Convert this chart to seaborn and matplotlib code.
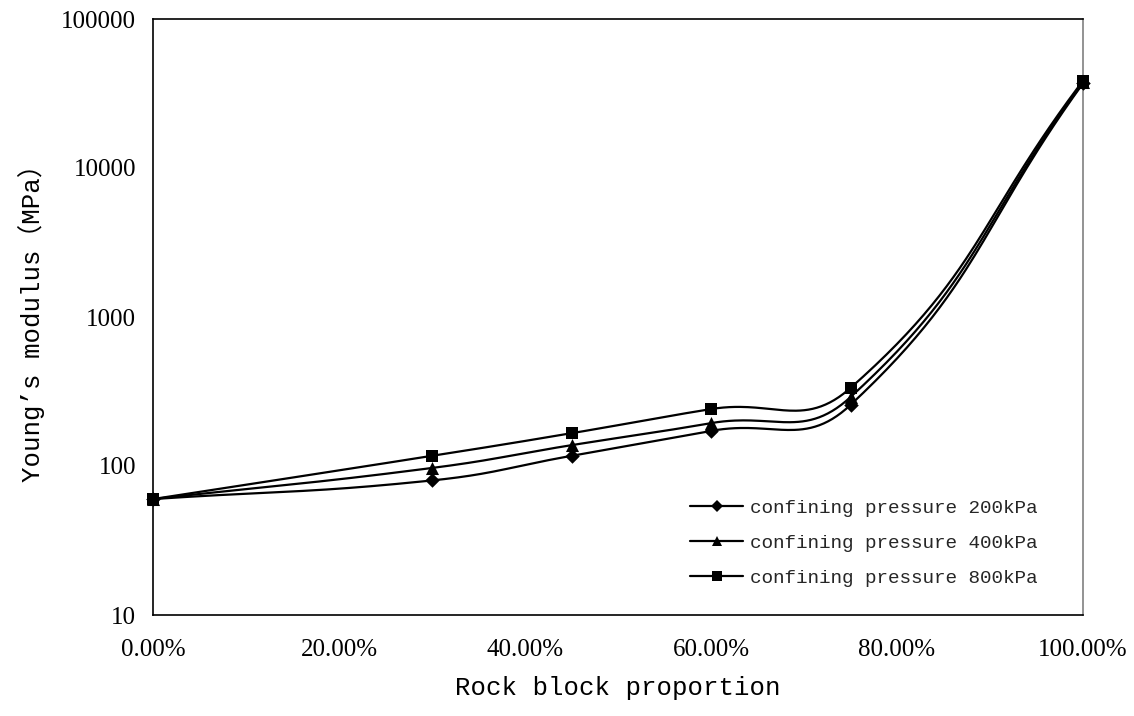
import numpy as np
import pandas as pd
import matplotlib
matplotlib.use("Agg")
import matplotlib.pyplot as plt
from matplotlib.lines import Line2D
from matplotlib.ticker import FixedLocator, FixedFormatter, NullLocator
import seaborn as sns

# Rock block proportion (fraction) and Young's modulus (MPa) per confining pressure
rock_fraction = [0.00, 0.30, 0.45, 0.60, 0.75, 1.00]
modulus_200kpa = [60, 80, 117, 172, 257, 37000]
modulus_400kpa = [60, 97, 138, 194, 290, 37500]
modulus_800kpa = [60, 117, 166, 241, 334, 38500]
series_labels = ["confining pressure 200kPa",
                 "confining pressure 400kPa",
                 "confining pressure 800kPa"]
series_markers = ["D", "^", "s"]
marker_sizes = [7.4, 9.4, 9.0]

x_tick_values = [0.0, 0.2, 0.4, 0.6, 0.8, 1.0]
x_tick_labels = ["0.00%", "20.00%", "40.00%", "60.00%", "80.00%", "100.00%"]
y_tick_values = [10, 100, 1000, 10000, 100000]
y_tick_labels = ["10", "100", "1000", "10000", "100000"]

x_title = "Rock block proportion"
y_title = "Young\u2019s modulus\uff08MPa\uff09"

sns.set_theme(style="white")
plt.rcParams["font.family"] = ["Liberation Serif", "DejaVu Serif"]
LABEL_FONT = ["Liberation Mono", "Noto Sans CJK SC", "DejaVu Sans"]

W, H = 1134, 716
fig = plt.figure(figsize=(W / 100, H / 100), dpi=100)
ax = fig.add_axes([153 / W, 1 - 615 / H, 930 / W, 596 / H])
ax.set_yscale("log")
ax.set_xlim(0, 1)
ax.set_ylim(10, 100000)


def smooth_curve(xs, ys, factor=0.45, n=60):
    """Smoothed Bezier path through the points, built in display space."""
    pts = ax.transData.transform(np.column_stack([xs, ys]))
    m = len(pts)
    tangents = []
    for i in range(m):
        a = pts[max(i - 1, 0)]
        b = pts[min(i + 1, m - 1)]
        d = b - a
        tangents.append(d / np.hypot(*d))
    out = [pts[0]]
    t = np.linspace(0, 1, n)[1:, None]
    for i in range(m - 1):
        p0, p3 = pts[i], pts[i + 1]
        seg_len = np.hypot(*(p3 - p0))
        c1 = p0 + tangents[i] * seg_len * factor
        c2 = p3 - tangents[i + 1] * seg_len * factor
        seg = ((1 - t) ** 3) * p0 + 3 * ((1 - t) ** 2) * t * c1 \
            + 3 * (1 - t) * t ** 2 * c2 + t ** 3 * p3
        out.extend(seg)
    data = ax.transData.inverted().transform(np.array(out))
    return data[:, 0], data[:, 1]


all_series = [modulus_200kpa, modulus_400kpa, modulus_800kpa]
for values, label, mk, ms in zip(all_series, series_labels, series_markers, marker_sizes):
    sx, sy = smooth_curve(rock_fraction, values)
    curve = pd.DataFrame({"x": sx, "y": sy})
    sns.lineplot(data=curve, x="x", y="y", sort=False, estimator=None,
                 color="black", linewidth=1.6, ax=ax, legend=False)
    pts = pd.DataFrame({"x": rock_fraction, "y": values})
    sns.scatterplot(data=pts, x="x", y="y", marker=mk, s=ms ** 2,
                    color="black", edgecolor="black", linewidth=0,
                    ax=ax, legend=False, zorder=3, clip_on=False)

ax.set_xlim(0, 1)
ax.set_ylim(10, 100000)

ax.xaxis.set_major_locator(FixedLocator(x_tick_values))
ax.xaxis.set_major_formatter(FixedFormatter(x_tick_labels))
ax.yaxis.set_major_locator(FixedLocator(y_tick_values))
ax.yaxis.set_major_formatter(FixedFormatter(y_tick_labels))
ax.yaxis.set_minor_locator(NullLocator())
ax.xaxis.set_minor_locator(NullLocator())

ax.tick_params(axis="both", which="major", direction="in", length=5,
               width=1.0, color="black")
ax.tick_params(axis="x", labelsize=18, pad=17)
ax.tick_params(axis="y", labelsize=18, pad=12)
for lbl in ax.get_xticklabels() + ax.get_yticklabels():
    lbl.set_fontfamily(["Liberation Serif", "DejaVu Serif"])
    lbl.set_color("black")

for side in ["left", "bottom", "top"]:
    ax.spines[side].set_color("black")
    ax.spines[side].set_linewidth(1.2)
ax.spines["right"].set_color("#808080")
ax.spines["right"].set_linewidth(1.2)

ax.set_xlabel(x_title, fontsize=18.5, family=LABEL_FONT, color="black", labelpad=11)
ax.set_ylabel(y_title, fontsize=18.5, family=LABEL_FONT, color="black", labelpad=12)

handles = [Line2D([0], [0], color="black", linewidth=1.6, marker=mk,
                  markersize=ms * 0.8, markeredgewidth=0)
           for mk, ms in zip(series_markers, marker_sizes)]
ax.legend(handles, series_labels, loc="upper left",
          bbox_to_anchor=((690 - 153) / 930, (615 - 499) / 596),
          frameon=False, borderpad=0, borderaxespad=0,
          handlelength=2.75, handletextpad=0.35, labelspacing=0.92,
          prop={"family": LABEL_FONT, "size": 13.9})

fig.savefig("out.png", dpi=100, facecolor="white")
